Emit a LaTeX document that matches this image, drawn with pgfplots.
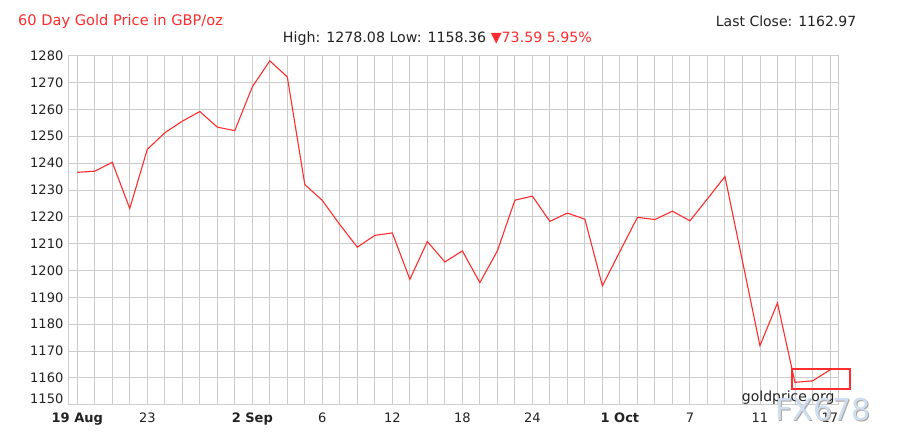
\documentclass[border=0pt]{standalone}
\usepackage{pgfplots}
\pgfplotsset{compat=1.18}
\usepackage{fontspec}
\setmainfont{DejaVu Sans}
\definecolor{gpred}{RGB}{255,45,45}
\definecolor{gridc}{RGB}{204,204,204}
\definecolor{txt}{RGB}{34,34,34}
\definecolor{wm}{RGB}{205,222,242}
\definecolor{wmshadow}{RGB}{175,165,155}
\begin{document}
\begin{tikzpicture}[x=1pt,y=1pt]
\path[use as bounding box, fill=white] (0pt,0pt) rectangle (903pt,445pt);
\begin{axis}[
  at={(68.5pt,40.2pt)}, anchor=south west,
  scale only axis, width=769.7pt, height=349.1pt,
  xmin=-0.5, xmax=43.47, ymin=1150, ymax=1280,
  clip=false,
  axis line style={draw=gridc, line width=0.9pt},
  xtick={0,4,10,14,18,22,26,31,35,39,43},
  xticklabels={\textbf{19 Aug},23,\textbf{2 Sep},6,12,18,24,\textbf{1 Oct},7,11,17},
  minor xtick={0,...,43},
  ytick={1160,1170,...,1280},
  extra y ticks={1150},
  extra y tick style={yticklabel style={yshift=6pt}},
  xmajorgrids, xminorgrids, ymajorgrids,
  grid style={draw=gridc, line width=0.9pt},
  major tick length=0pt, minor tick length=0pt,
  tick label style={font=\fontsize{13}{13}\selectfont, text=txt},
  /pgf/number format/assume math mode=true,
  /pgf/number format/1000 sep={},
  scaled y ticks=false,
  yticklabel style={anchor=east, inner sep=0pt, xshift=-5pt},
  xticklabel style={anchor=north, inner sep=0pt, yshift=-8.3pt},
]
\addplot[color=gpred, line width=1.1pt] coordinates {
(0,1236.56) (1,1237.0) (2,1240.3) (3,1223.1) (4,1245.1) (5,1251.3)
(6,1255.6) (7,1259.2) (8,1253.4) (9,1252.1) (10,1268.4) (11,1278.08)
(12,1272.1) (13,1232.0) (14,1226.1) (15,1217.1) (16,1208.7) (17,1213.1)
(18,1214.0) (19,1196.7) (20,1210.8) (21,1203.2) (22,1207.3) (23,1195.5)
(24,1207.3) (25,1226.2) (26,1227.7) (27,1218.3) (28,1221.4) (29,1219.1)
(30,1194.3) (31,1207.1) (32,1219.8) (33,1219.0) (34,1222.1) (35,1218.5)
(36,1226.7) (37,1235.0) (38,1203.5) (39,1172.0) (40,1187.9) (41,1158.36)
(42,1158.9) (43,1162.97)
};
\draw[gpred, line width=2pt] (axis cs:40.83,1163.5) rectangle (axis cs:44.12,1155.7);
\end{axis}
\node[anchor=base west, inner sep=0pt, text=gpred, font=\fontsize{14.6}{14.6}\selectfont] at (18pt,419pt) {60 Day Gold Price in GBP/oz};
\node[anchor=base west, inner sep=0pt, text=txt, font=\fontsize{14.2}{14.2}\selectfont] at (282.7pt,402pt) {High: 1278.08 Low: 1158.36 \textcolor{gpred}{▼73.59 5.95\%}};
\node[anchor=base west, inner sep=0pt, text=txt, font=\fontsize{14}{14}\selectfont] at (715.7pt,418pt) {Last Close: 1162.97};
\node[anchor=base west, inner sep=0pt, text=txt, font=\fontsize{14}{14}\selectfont] at (741.7pt,44pt) {goldprice.org};
\node[anchor=base west, inner sep=0pt, text=wmshadow, font=\fontsize{30}{30}\selectfont] at (776.2pt,23.8pt) {FX678};
\node[anchor=base west, inner sep=0pt, text=wm, font=\fontsize{30}{30}\selectfont] at (775pt,25pt) {FX678};
\end{tikzpicture}
\end{document}
